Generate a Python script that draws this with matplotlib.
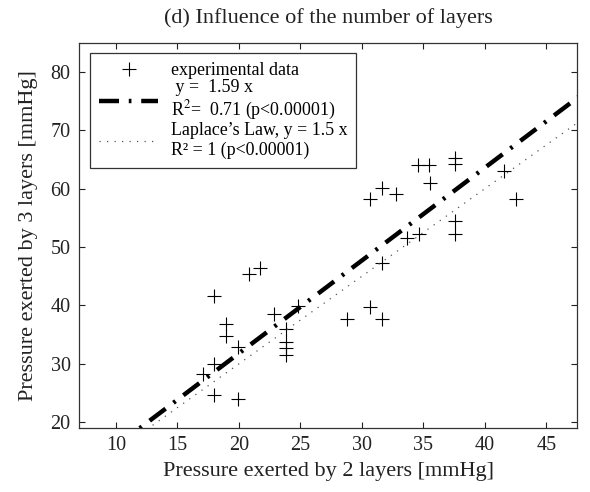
import matplotlib
matplotlib.use("Agg")
import matplotlib.pyplot as plt
import numpy as np

plt.rcParams['font.family'] = ['Liberation Serif', 'DejaVu Serif']
plt.rcParams['mathtext.fontset'] = 'stix'

# Data
x_two_layers = [17.99, 18.94, 18.94, 19.9, 18.0, 17.05, 18.0, 19.9,
                20.8, 21.73,
                22.87, 23.82, 23.82, 23.82, 23.82, 24.77,
                34.58, 35.47, 37.56, 37.56, 35.55, 41.57, 42.5, 30.68,
                31.6, 32.76, 37.56, 37.56, 34.66, 33.66,
                31.63, 30.65, 31.63, 28.78]
y_three_layers = [41.66, 36.8, 34.8, 32.8, 30.0, 28.3, 24.6, 24.0,
                  45.4, 46.5,
                  38.5, 35.9, 33.7, 32.7, 31.5, 39.95,
                  64.05, 64.05, 65.3, 64.2, 61.0, 63.0, 58.2, 58.2,
                  60.2, 59.1, 54.5, 52.2, 52.2, 51.5,
                  47.35, 39.66, 37.7, 37.7]

fit_slope = 1.59
laplace_slope = 1.5
line_x = [10, 50]

xticks = [10, 15, 20, 25, 30, 35, 40, 45]
yticks = [20, 30, 40, 50, 60, 70, 80]

fig = plt.figure(figsize=(5.9, 4.92), dpi=100)
ax = fig.add_axes([0.134, 0.130, 0.844, 0.783])

ax.plot(x_two_layers, y_three_layers, linestyle='none', marker='+',
        color='black', markersize=10, markeredgewidth=0.8,
        label='experimental data')
lx = np.array(line_x, dtype=float)
ax.plot(lx, fit_slope * lx, color='black', linewidth=3.2,
        dashes=(4.5, 2.2, 0.6, 2.2),
        label=' y =  1.59 x\nR$^2$=  0.71 (p<0.00001)')
ax.plot(lx, laplace_slope * lx, color='#555555', linewidth=0.9,
        linestyle=(0, (1, 5)),
        label='Laplace\u2019s Law, y = 1.5 x\nR\u00b2 = 1 (p<0.00001)')

ax.set_xlim(7, 47.5)
ax.set_ylim(19, 85)
ax.set_xticks(xticks)
ax.set_yticks(yticks)
ax.tick_params(direction='in', top=True, right=True, labelsize=14.5,
               length=4, width=0.8, colors='#222222', pad=6)
for s in ax.spines.values():
    s.set_linewidth(0.9)
    s.set_color('#333333')

ax.set_xlabel('Pressure exerted by 2 layers [mmHg]', fontsize=16,
              labelpad=5, color='#222222')
ax.set_ylabel('Pressure exerted by 3 layers [mmHg]', fontsize=16,
              labelpad=9, color='#222222')
ax.set_title('(d) Influence of the number of layers', fontsize=16,
             pad=14, color='#222222')

leg = ax.legend(loc='upper left', bbox_to_anchor=(0.022, 0.974),
                borderaxespad=0, fancybox=False, framealpha=1,
                edgecolor='#333333', fontsize=12.9, handlelength=3.3,
                labelspacing=0.0, handletextpad=0.7, borderpad=0.5)
leg.get_frame().set_linewidth(0.9)

fig.savefig('out.png', dpi=100)
